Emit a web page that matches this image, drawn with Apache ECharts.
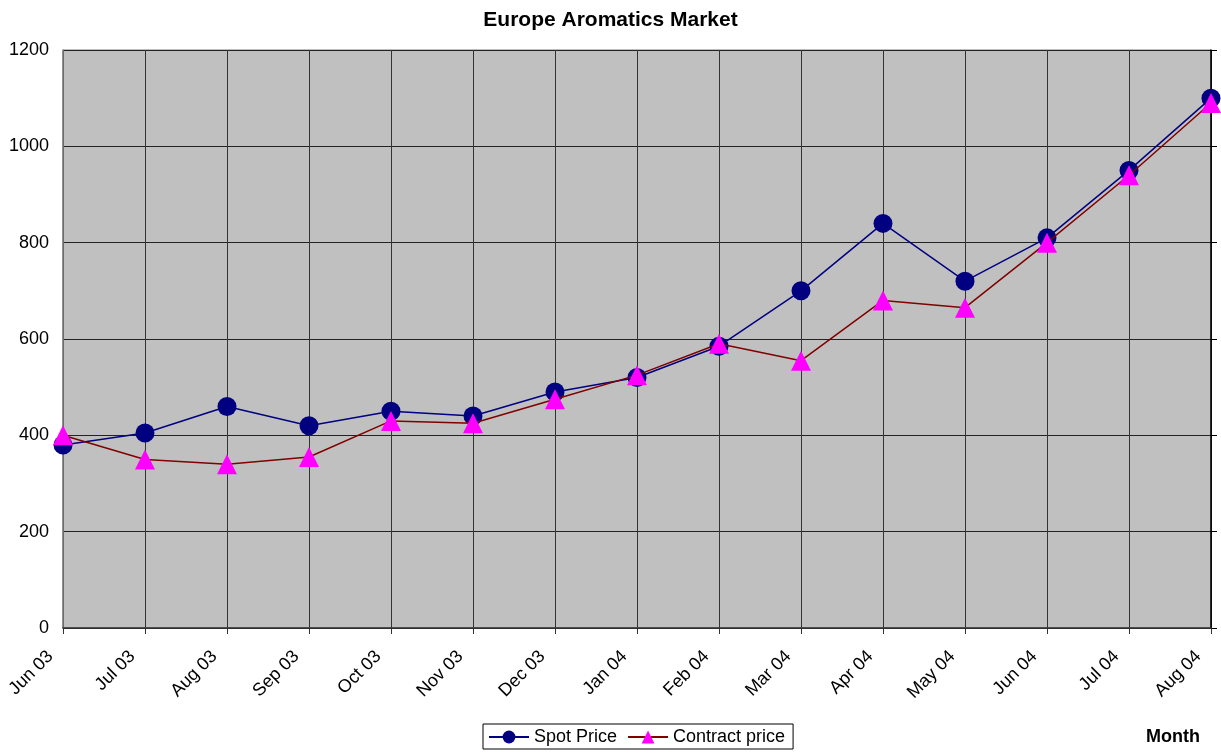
<!DOCTYPE html>
<html>
<head>
<meta charset="utf-8">
<script src="https://cdn.jsdelivr.net/npm/echarts@6/dist/echarts.min.js"></script>
<style>
html, body { margin: 0; padding: 0; background: #fff; }
#main { width: 1221px; height: 754px; }
</style>
</head>
<body>
<div id="main"></div>
<script>
// Europe Aromatics Market
var months = ['Jun 03', 'Jul 03', 'Aug 03', 'Sep 03', 'Oct 03', 'Nov 03', 'Dec 03', 'Jan 04',
    'Feb 04', 'Mar 04', 'Apr 04', 'May 04', 'Jun 04', 'Jul 04', 'Aug 04'];
var spotPrice = [380, 405, 460, 420, 450, 440, 490, 520, 585, 700, 840, 720, 810, 950, 1100];
var contractPrice = [400, 350, 340, 355, 430, 425, 475, 525, 590, 555, 680, 665, 800, 940, 1090];

(function () {
    var chart = echarts.init(document.getElementById('main'));

    var font = 'Liberation Sans, Arial, sans-serif';

    var option = {
        animation: false,
        textStyle: { fontFamily: font },
        title: [
            {
                text: 'Europe Aromatics Market',
                left: 'center',
                top: 5,
                textStyle: { fontSize: 21, fontWeight: 'bold', color: '#000', fontFamily: font }
            },
            {
                text: 'Month',
                left: 1141,
                top: 723,
                textStyle: { fontSize: 18, fontWeight: 'bold', color: '#000', fontFamily: font }
            }
        ],
        legend: {
            data: ['Spot Price', 'Contract price'],
            left: 483,
            top: 724,
            itemWidth: 40,
            itemHeight: 16,
            itemGap: 10,
            padding: [4, 8, 3, 5],
            borderColor: '#000',
            borderWidth: 1,
            textStyle: { fontSize: 18, color: '#000', fontFamily: font }
        },
        grid: {
            left: 63,
            right: 10,
            top: 50,
            bottom: 126,
            show: true,
            backgroundColor: '#c0c0c0',
            borderColor: '#808080',
            borderWidth: 1
        },
        xAxis: {
            type: 'category',
            data: months,
            boundaryGap: false,
            axisLine: { lineStyle: { color: '#333', width: 1.5 } },
            axisTick: { show: true, interval: 0, length: 6, lineStyle: { color: '#333' } },
            splitLine: { show: true, interval: 0, lineStyle: { color: '#333', width: 1 } },
            axisLabel: {
                interval: 0,
                rotate: 45,
                fontSize: 18,
                color: '#000',
                margin: 13,
                padding: [0, 18, 0, 0],
                fontFamily: font
            }
        },
        yAxis: [
            {
                type: 'value',
                min: 0,
                max: 1200,
                interval: 200,
                axisLine: { show: true, lineStyle: { color: '#808080', width: 1.5 } },
                axisTick: { show: false },
                splitLine: { show: true, lineStyle: { color: '#222', width: 1 } },
                axisLabel: {
                    fontSize: 18,
                    color: '#000',
                    margin: 14,
                    fontFamily: font,
                    formatter: function (v) { return String(v); }
                }
            },
            {
                type: 'value',
                position: 'right',
                min: 0,
                max: 1200,
                interval: 200,
                axisLine: { show: true, lineStyle: { color: '#000', width: 1.5 } },
                axisTick: { show: true, length: 6, lineStyle: { color: '#000' } },
                splitLine: { show: false },
                axisLabel: { show: false }
            }
        ],
        series: [
            {
                name: 'Spot Price',
                type: 'line',
                data: spotPrice,
                symbol: 'circle',
                symbolSize: 19,
                itemStyle: { color: '#000080' },
                lineStyle: { color: '#000080', width: 1.5 },
                z: 2
            },
            {
                name: 'Contract price',
                type: 'line',
                data: contractPrice,
                symbol: 'triangle',
                symbolSize: 20,
                itemStyle: { color: '#ff00ff' },
                lineStyle: { color: '#800000', width: 1.5 },
                z: 3
            }
        ]
    };

    chart.setOption(option);
})();
</script>
</body>
</html>
